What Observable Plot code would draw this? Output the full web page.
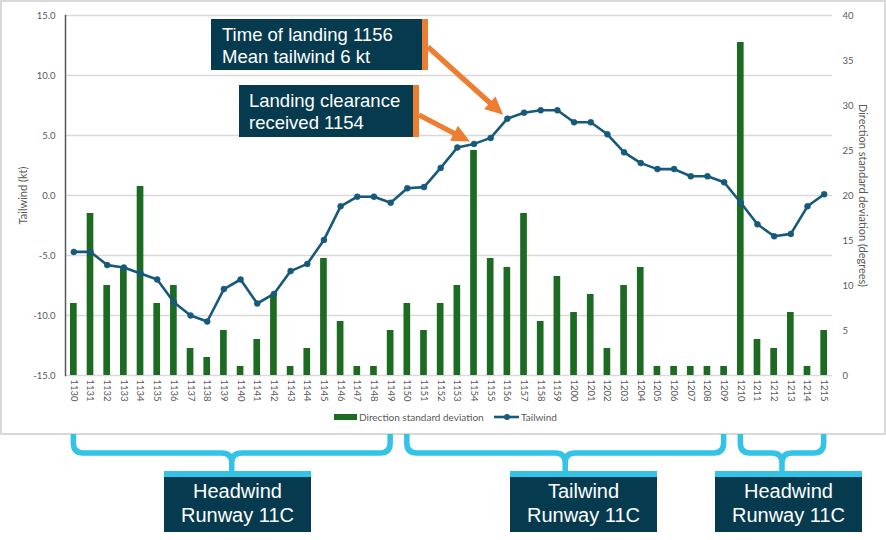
<!DOCTYPE html>
<html>
<head>
<meta charset="utf-8">
<script src="https://cdn.jsdelivr.net/npm/d3@7"></script>
<script src="https://cdn.jsdelivr.net/npm/@observablehq/plot@0.6"></script>
<style>
html, body { margin: 0; padding: 0; background: #ffffff; }
#wrap { position: relative; width: 886px; height: 540px; overflow: hidden; font-family: Lato, sans-serif; }
#chart { position: absolute; left: 0; top: 0; }
#overlay { position: absolute; left: 0; top: 0; pointer-events: none; }
.note { position: absolute; background: #063A4E; color: #ffffff; font-family: "Liberation Sans", Arial, sans-serif;
        font-size: 18.5px; line-height: 22px; box-sizing: border-box; border-right: 6px solid #ED7D31; white-space: nowrap; }
.seg { position: absolute; background: #063A4E; color: #ffffff; font-family: "Liberation Sans", Arial, sans-serif;
       font-size: 20px; line-height: 24.7px; text-align: center; box-sizing: border-box; border-top: 6px solid #33C3E6; white-space: nowrap; }
.lg { position: absolute; font-family: Lato, sans-serif; font-size: 10px; line-height: 12px; color: #595959; white-space: nowrap; }
</style>
</head>
<body>
<div id="wrap">
  <div id="chart"></div>
</div>
<script>
// ---- data ----
const times = ["1130","1131","1132","1133","1134","1135","1136","1137","1138","1139",
               "1140","1141","1142","1143","1144","1145","1146","1147","1148","1149",
               "1150","1151","1152","1153","1154","1155","1156","1157","1158","1159",
               "1200","1201","1202","1203","1204","1205","1206","1207","1208","1209",
               "1210","1211","1212","1213","1214","1215"];
const tailwind = [-4.7,-4.7,-5.8,-6.0,-6.5,-7.0,-8.9,-10.0,-10.5,-7.8,
                  -7.0,-9.0,-8.2,-6.3,-5.7,-3.7,-0.9,-0.1,-0.1,-0.6,
                  0.6,0.7,2.3,4.0,4.3,4.8,6.4,6.9,7.1,7.1,
                  6.1,6.1,5.1,3.6,2.7,2.2,2.2,1.6,1.6,1.1,
                  -0.6,-2.4,-3.4,-3.2,-0.9,0.1];
const dirStd = [8,18,10,12,21,8,10,3,2,5,
                1,4,9,1,3,13,6,1,1,5,
                8,5,8,10,25,13,12,18,6,11,
                7,9,3,10,12,1,1,1,1,1,
                37,4,3,7,1,5];
const ktTicks = [-15,-10,-5,0,5,10,15];
const degTicks = [0,5,10,15,20,25,30,35,40];
const segStarts = ["1130","1150","1210"];
const segEnds = ["1149","1209","1215"];
const segLabels = [["Headwind","Runway 11C"],["Tailwind","Runway 11C"],["Headwind","Runway 11C"]];
const noteLines = [["Time of landing 1156","Mean tailwind 6 kt"],["Landing clearance","received 1154"]];
const noteTimes = ["1156","1154"];
const legendLabels = ["Direction standard deviation","Tailwind"];

// ---- styling / layout ----
const GREEN = "#1D6B22", BLUE = "#17597B", GRID = "#d9d9d9", TXT = "#595959";
const ktMin = -15, ktMax = 15, degMax = 40;
const deg2kt = d => ktMin + d * (ktMax - ktMin) / degMax;
const kt2deg = k => (k - ktMin) * degMax / (ktMax - ktMin);

const data = times.map((t, i) => ({time: t, tailwind: tailwind[i], dir: dirStd[i]}));

const chart = Plot.plot({
  width: 886, height: 434,
  marginTop: 15, marginBottom: 59, marginLeft: 65, marginRight: 54,
  style: {fontFamily: "Lato, sans-serif", fontSize: "9.5px", color: TXT, background: "transparent", overflow: "visible"},
  x: {type: "band", domain: times, paddingInner: 0.6, paddingOuter: 0.3, label: null},
  y: {domain: [ktMin, ktMax], label: null},
  marks: [
    Plot.gridY(ktTicks, {stroke: GRID, strokeOpacity: 1, strokeWidth: 1.3}),
    Plot.barY(data, {x: "time", y1: ktMin, y2: d => deg2kt(d.dir), fill: GREEN}),
    Plot.frame({anchor: "left", stroke: "#595959", strokeWidth: 1.5}),
    Plot.line(data, {x: "time", y: "tailwind", stroke: BLUE, strokeWidth: 2.6}),
    Plot.dot(data, {x: "time", y: "tailwind", r: 3, fill: BLUE, stroke: BLUE, strokeWidth: 0.5}),
    Plot.axisY(ktTicks, {anchor: "left", tickSize: 0, tickPadding: 10, tickFormat: d => d.toFixed(1), label: null}),
    Plot.axisY(degTicks.map(deg2kt), {anchor: "right", tickSize: 0, tickPadding: 10,
      tickFormat: d => String(Math.round(kt2deg(d))), label: null}),
    Plot.axisX({tickRotate: 90, tickSize: 0, tickPadding: 4, label: null}),
    Plot.text(["Tailwind (kt)"], {text: d => d, frameAnchor: "left", dx: -42, rotate: -90, textAnchor: "middle", fontSize: 11, fill: TXT}),
    Plot.text(["Direction standard deviation (degrees)"], {text: d => d, frameAnchor: "right", dx: 30, rotate: 90, textAnchor: "middle", fontSize: 11, fill: TXT})
  ]
});
document.getElementById("chart").appendChild(chart);

// ---- scales for annotations ----
const xs = chart.scale("x"), ys = chart.scale("y");
const cx = t => xs.apply(t) + xs.bandwidth / 2;
const cy = t => ys.apply(tailwind[times.indexOf(t)]);

const wrap = document.getElementById("wrap");
const svg = d3.select(wrap).append("svg").attr("id", "overlay").attr("width", 886).attr("height", 540);

// chart border
svg.append("rect").attr("x", 1).attr("y", 1).attr("width", 884).attr("height", 433)
  .attr("fill", "none").attr("stroke", GRID).attr("stroke-width", 2);

// braces
const yTop = 434, yH = 453, yBot = 472, r = 10;
segStarts.forEach((s, i) => {
  const x1 = cx(s), x2 = cx(segEnds[i]), xm = (x1 + x2) / 2;
  const p = `M${x1},${yTop} V${yH - r} Q${x1},${yH} ${x1 + r},${yH} H${xm - r} Q${xm},${yH} ${xm},${yH + r} V${yBot}` +
            ` M${xm},${yH + r} Q${xm},${yH} ${xm + r},${yH} H${x2 - r} Q${x2},${yH} ${x2},${yH - r} V${yTop}`;
  svg.append("path").attr("d", p).attr("fill", "none").attr("stroke", "#33C3E6").attr("stroke-width", 5.5)
    .attr("stroke-linecap", "butt");
});

// note boxes
const noteBoxes = [
  {left: 211, top: 19, width: 217, height: 51, pad: 11, start: [428, 47], gap: 5},
  {left: 239, top: 85, width: 180, height: 52, pad: 10, start: [419, 115], gap: 4}
];
noteBoxes.forEach((b, i) => {
  const div = document.createElement("div");
  div.className = "note";
  Object.assign(div.style, {left: b.left + "px", top: b.top + "px", width: b.width + "px", height: b.height + "px",
    paddingLeft: b.pad + "px", paddingTop: "5px"});
  div.innerHTML = noteLines[i].join("<br>");
  wrap.appendChild(div);
  // arrow
  const px = cx(noteTimes[i]), py = cy(noteTimes[i]);
  const [sx, sy] = b.start;
  const len = Math.hypot(px - sx, py - sy);
  const ux = (px - sx) / len, uy = (py - sy) / len;
  const tx = px - ux * b.gap, ty = py - uy * b.gap;
  const nx = -uy, ny = ux, w = 2.6, L = 18, H = 8.5;
  const bx = tx - ux * L, by = ty - uy * L;
  const pts = [[sx + nx * w, sy + ny * w], [bx + nx * w, by + ny * w], [bx + nx * H, by + ny * H], [tx, ty],
               [bx - nx * H, by - ny * H], [bx - nx * w, by - ny * w], [sx - nx * w, sy - ny * w]];
  svg.append("polygon").attr("points", pts.map(p => p.join(",")).join(" ")).attr("fill", "#ED7D31");
});

// segment label boxes
const segBoxLeft = [164, 510, 715];
segLabels.forEach((lines, i) => {
  const div = document.createElement("div");
  div.className = "seg";
  Object.assign(div.style, {left: segBoxLeft[i] + "px", top: "471px", width: "147px", height: "61px", paddingTop: "1.7px"});
  div.innerHTML = lines.join("<br>");
  wrap.appendChild(div);
});

// legend
const lg = svg.append("g");
lg.append("rect").attr("x", 334).attr("y", 414).attr("width", 23).attr("height", 6).attr("fill", GREEN);
lg.append("line").attr("x1", 494).attr("x2", 519).attr("y1", 417).attr("y2", 417).attr("stroke", BLUE).attr("stroke-width", 2.6);
lg.append("circle").attr("cx", 507).attr("cy", 417).attr("r", 3).attr("fill", BLUE);
[[359, legendLabels[0]], [521, legendLabels[1]]].forEach(([x, t]) => {
  const div = document.createElement("div");
  div.className = "lg";
  Object.assign(div.style, {left: x + "px", top: "411px"});
  div.textContent = t;
  wrap.appendChild(div);
});
</script>
</body>
</html>
